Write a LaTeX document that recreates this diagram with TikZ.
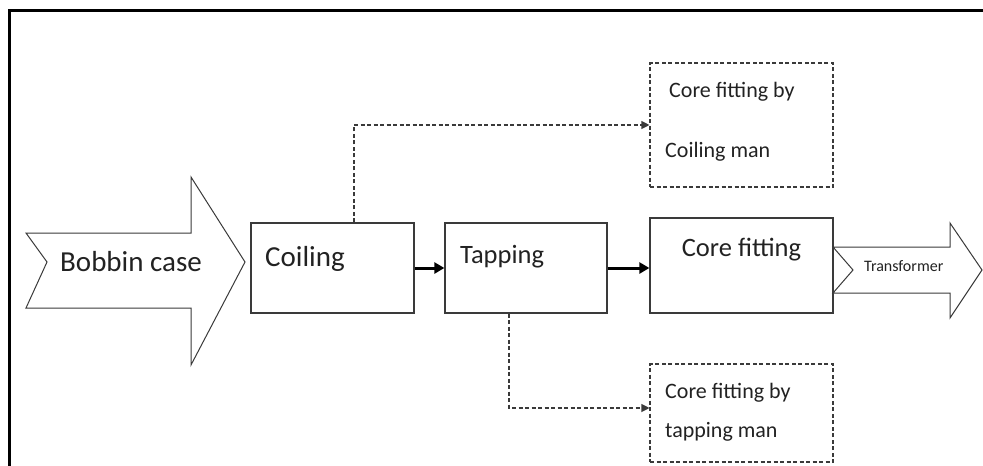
\documentclass[tikz,border=0pt]{standalone}
\usepackage{fontspec}
\setmainfont{Carlito}
\usetikzlibrary{arrows.meta}
\definecolor{ln}{HTML}{3A3A3A}
\definecolor{tx}{HTML}{222222}
\tikzset{
  box/.style={draw=ln,line width=1.3pt,minimum width=#1,inner sep=0pt},
  dbox/.style={draw=ln,line width=1.1pt,dash pattern=on 4pt off 2.5pt,minimum width=183pt,inner sep=0pt},
  bigarrow/.style={draw=ln,line width=1pt,fill=white,line join=miter},
  flow/.style={draw=black,line width=3pt,-{Triangle[length=10pt,width=11pt]}},
  dflow/.style={draw=ln,line width=1.1pt,dash pattern=on 4pt off 2.5pt,-{Triangle[length=8pt,width=8pt]}},
  lbl/.style={text=tx,inner sep=0pt,anchor=west},
}
\begin{document}
\begin{tikzpicture}[x=1pt,y=-1pt]
\useasboundingbox (0,0) rectangle (983,466);
% frame
\draw[line width=3pt,black] (9.5,470) -- (9.5,10.5) -- (983,10.5);
% Bobbin case arrow
\draw[bigarrow] (26,233) -- (191,233) -- (191,177) -- (245,262) -- (191,365) -- (191,308) -- (26,308) -- (47,262) -- cycle;
\node[lbl,font=\fontsize{29}{32}\selectfont] (bob) at (60,262) {Bobbin case};
% process boxes
\node[box=163pt,minimum height=90pt] (coil) at (332.5,268) {};
\node[box=162pt,minimum height=90pt] (tap) at (526,268) {};
\node[box=183pt,minimum height=95pt] (core) at (741.5,265.5) {};
\node[lbl,font=\fontsize{29}{32}\selectfont] (coilt) at (265,259) {Coiling};
\node[lbl,font=\fontsize{26.5}{30}\selectfont] (tapt) at (460,257) {Tapping};
\node[text=tx,inner sep=0pt,font=\fontsize{26.5}{30}\selectfont] (coret) at (741.5,250) {Core fitting};
% transformer arrow
\draw[bigarrow] (833,247) -- (950,247) -- (950,223) -- (982,270) -- (950,318) -- (950,293) -- (833,293) -- (853,270) -- cycle;
\node[lbl,font=\fontsize{16}{18}\selectfont] (trans) at (864,266) {Transformer};
% dashed boxes
\node[dbox,minimum height=124pt] (cfc) at (741.5,125) {};
\node[lbl,font=\fontsize{22}{26}\selectfont] (cfc1) at (669,92) {Core fitting by};
\node[lbl,font=\fontsize{22}{26}\selectfont] (cfc2) at (665,152) {Coiling man};
\node[dbox,minimum height=98pt] (cft) at (741.5,413) {};
\node[lbl,font=\fontsize{22}{26}\selectfont] (cft1) at (665,393) {Core fitting by};
\node[lbl,font=\fontsize{22}{26}\selectfont] (cft2) at (665,432) {tapping man};
% connectors
\draw[flow] (coil.east) -- (tap.west);
\draw[flow] (tap.east) -- (tap.east -| core.west);
\draw[dflow] ([xshift=21.5pt]coil.north) |- (cfc.west);
\draw[dflow] ([xshift=-17pt]tap.south) |- ([yshift=5pt]cft.west);
\end{tikzpicture}
\end{document}
